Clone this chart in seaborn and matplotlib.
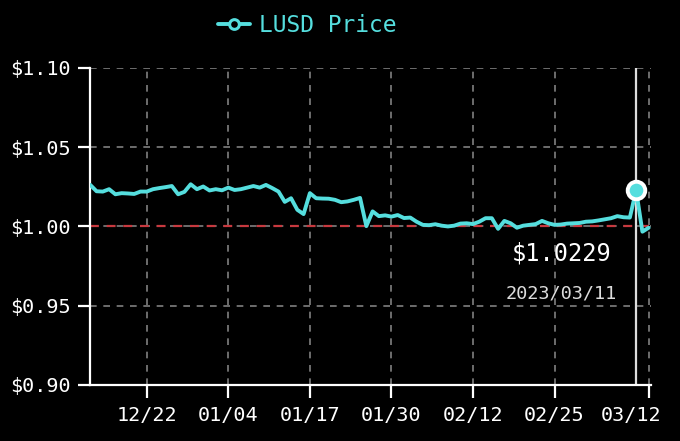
import numpy as np
import pandas as pd
import matplotlib
matplotlib.use("Agg")
import matplotlib.pyplot as plt
import matplotlib.dates as mdates
import matplotlib.transforms as mtransforms
from matplotlib.lines import Line2D
import seaborn as sns

# daily LUSD price, 2022-12-13 .. 2023-03-12
start_date = "2022-12-13"
prices = [
    1.0262, 1.0222, 1.0220, 1.0235, 1.0203, 1.0210, 1.0208, 1.0205, 1.0220, 1.0220,
    1.0235, 1.0242, 1.0248, 1.0255, 1.0203, 1.0218, 1.0266, 1.0235, 1.0252, 1.0227,
    1.0235, 1.0228, 1.0245, 1.0230, 1.0235, 1.0245, 1.0255, 1.0245, 1.0262, 1.0242,
    1.0220, 1.0155, 1.0178, 1.0105, 1.0078, 1.0210, 1.0178, 1.0176, 1.0175, 1.0168,
    1.0153, 1.0158, 1.0168, 1.0180, 1.0002, 1.0095, 1.0065, 1.0070, 1.0062, 1.0072,
    1.0053, 1.0056, 1.0030, 1.0010, 1.0008, 1.0014, 1.0005, 1.0000, 1.0005, 1.0018,
    1.0020, 1.0015, 1.0030, 1.0052, 1.0052, 0.9985, 1.0035, 1.0020, 0.9992, 1.0005,
    1.0010, 1.0015, 1.0035, 1.0020, 1.0010, 1.0012, 1.0018, 1.0020, 1.0022, 1.0030,
    1.0032, 1.0038, 1.0045, 1.0052, 1.0065, 1.0058, 1.0056, 1.0229, 0.9967, 0.9992,
]
peg = 1.00
hover_index = 87
hover_label = "2023/03/11"
y_ticks = [0.90, 0.95, 1.00, 1.05, 1.10]
x_ticks = ["2022-12-22", "2023-01-04", "2023-01-17", "2023-01-30",
           "2023-02-12", "2023-02-25", "2023-03-12"]

CYAN = "#55dede"
df = pd.DataFrame({
    "date": pd.date_range(start_date, periods=len(prices), freq="D"),
    "price": prices,
})

sns.set_theme(style="dark")
plt.rcParams["font.family"] = ["DejaVu Sans Mono", "DejaVu Sans"]

fig = plt.figure(figsize=(6.8, 4.41), dpi=100, facecolor="black")
ax = fig.add_axes([0.132, 0.127, 0.825, 0.719])
ax.set_facecolor("black")

ax.grid(True, color="#808080", linestyle=(0, (4, 4)), linewidth=1.2)
ax.axhline(peg, color="#c8393f", linestyle=(0, (4, 3.5)), linewidth=1.6, zorder=2)

sns.lineplot(data=df, x="date", y="price", ax=ax, color=CYAN, linewidth=2.8, zorder=3)

hx = df["date"].iloc[hover_index]
hy = df["price"].iloc[hover_index]
ax.axvline(hx, color="#dddddd", linewidth=1.6, zorder=2)
ax.scatter([hx], [hy], s=160, color=CYAN, edgecolor="white", linewidth=2.8, zorder=5)

ax.text(0.841, 0.415, f"${hy:.4f}", transform=ax.transAxes, ha="center",
        va="center", color="white", fontsize=17)
ax.text(0.841, 0.29, hover_label, transform=ax.transAxes, ha="center",
        va="center", color="#dddddd", fontsize=13.3)

ax.set_ylim(0.90, 1.10)
ax.set_xlim(df["date"].iloc[0] - pd.Timedelta(hours=2),
            df["date"].iloc[-1] + pd.Timedelta(hours=8))
ax.set_yticks(y_ticks)
ax.set_yticklabels([f"${v:.2f}" for v in y_ticks])
ax.set_xticks(pd.to_datetime(x_ticks))
ax.xaxis.set_major_formatter(mdates.DateFormatter("%m/%d"))
ax.set_xlabel("")
ax.set_ylabel("")

for side in ["top", "right"]:
    ax.spines[side].set_visible(False)
for side in ["left", "bottom"]:
    ax.spines[side].set_visible(True)
    ax.spines[side].set_color("white")
    ax.spines[side].set_linewidth(1.6)
ax.tick_params(axis="both", colors="white", labelsize=14.5, width=1.6,
               length=9, direction="out")
ax.tick_params(axis="x", bottom=True, pad=6)
ax.tick_params(axis="y", left=True, pad=5)

# last date label is pulled left so it stays inside the canvas
fig.canvas.draw()
last = ax.get_xticklabels()[-1]
last.set_transform(last.get_transform() +
                   mtransforms.ScaledTranslation(-0.18, 0, fig.dpi_scale_trans))

handle = Line2D([0], [0], color=CYAN, linewidth=2.8, marker="o", markersize=7,
                markerfacecolor="black", markeredgecolor=CYAN, markeredgewidth=2.2)
leg = fig.legend([handle], ["LUSD Price"], loc="center", bbox_to_anchor=(0.452, 0.943),
                 frameon=False, fontsize=16.5, handlelength=1.4, handletextpad=0.4)
for t in leg.get_texts():
    t.set_color(CYAN)

fig.savefig("out.png", dpi=100, facecolor="black")
